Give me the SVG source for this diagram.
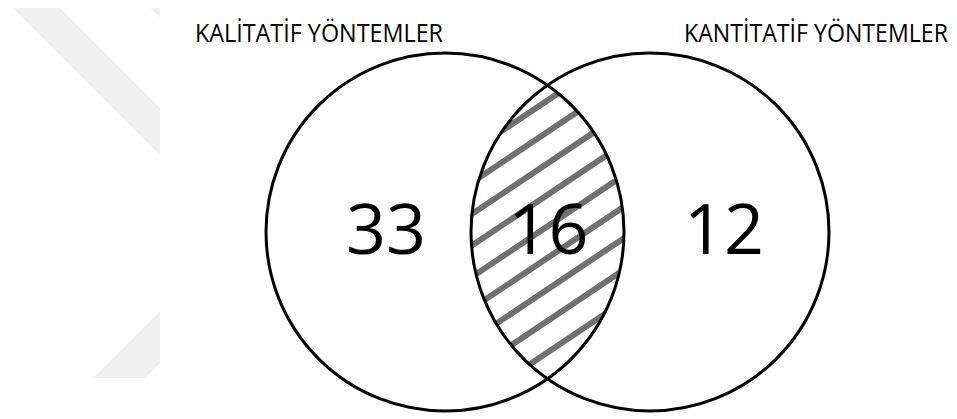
<svg xmlns="http://www.w3.org/2000/svg" width="957" height="419" viewBox="0 0 957 419">
  <style>
    .ring { fill: none; stroke: #000; stroke-width: 3; }
    .hatch { stroke: #707070; stroke-width: 6; fill: none; }
    .num { font-family: "Open Sans", "Noto Sans", sans-serif; font-size: 70px; fill: #000; text-anchor: middle; }
    .lbl { font-family: "Open Sans", "Noto Sans", sans-serif; font-size: 26px; fill: #000; }
    .wm { fill: #efefef; }
  </style>
  <defs>
    <clipPath id="clipLeft"><circle cx="445" cy="232" r="179"/></clipPath>
    <clipPath id="clipRight"><circle cx="650" cy="232" r="179"/></clipPath>
  </defs>
  <rect width="957" height="419" fill="#fff"/>
  <g id="watermark">
    <polygon class="wm" points="13,8 60,8 160,108 160,155"/>
    <polygon class="wm" points="150,8 160,8 160,18"/>
    <polygon class="wm" points="93,378 145,378 160,363 160,311"/>
  </g>
  <g id="intersection">
    <g clip-path="url(#clipLeft)">
      <g clip-path="url(#clipRight)">
        <g class="hatch">
          <line x1="460" y1="159" x2="640" y2="38.4"/>
          <line x1="460" y1="190.5" x2="640" y2="69.9"/>
          <line x1="460" y1="222" x2="640" y2="101.4"/>
          <line x1="460" y1="253.5" x2="640" y2="132.9"/>
          <line x1="460" y1="285" x2="640" y2="164.4"/>
          <line x1="460" y1="316.5" x2="640" y2="195.9"/>
          <line x1="460" y1="348" x2="640" y2="227.4"/>
          <line x1="460" y1="379.5" x2="640" y2="258.9"/>
          <line x1="460" y1="411" x2="640" y2="290.4"/>
        </g>
      </g>
    </g>
    <text class="num" x="548.5" y="254">16</text>
  </g>
  <g id="kalitatif">
    <circle class="ring" cx="445" cy="232" r="179"/>
    <text class="num" x="386" y="254">33</text>
    <text class="lbl" transform="translate(195,42) scale(0.8,1)" x="0" y="0" textLength="310" lengthAdjust="spacingAndGlyphs">KALİTATİF YÖNTEMLER</text>
  </g>
  <g id="kantitatif">
    <circle class="ring" cx="650" cy="232" r="179"/>
    <text class="num" x="724" y="254">12</text>
    <text class="lbl" transform="translate(684,42) scale(0.8,1)" x="0" y="0" textLength="330" lengthAdjust="spacingAndGlyphs">KANTİTATİF YÖNTEMLER</text>
  </g>
</svg>
